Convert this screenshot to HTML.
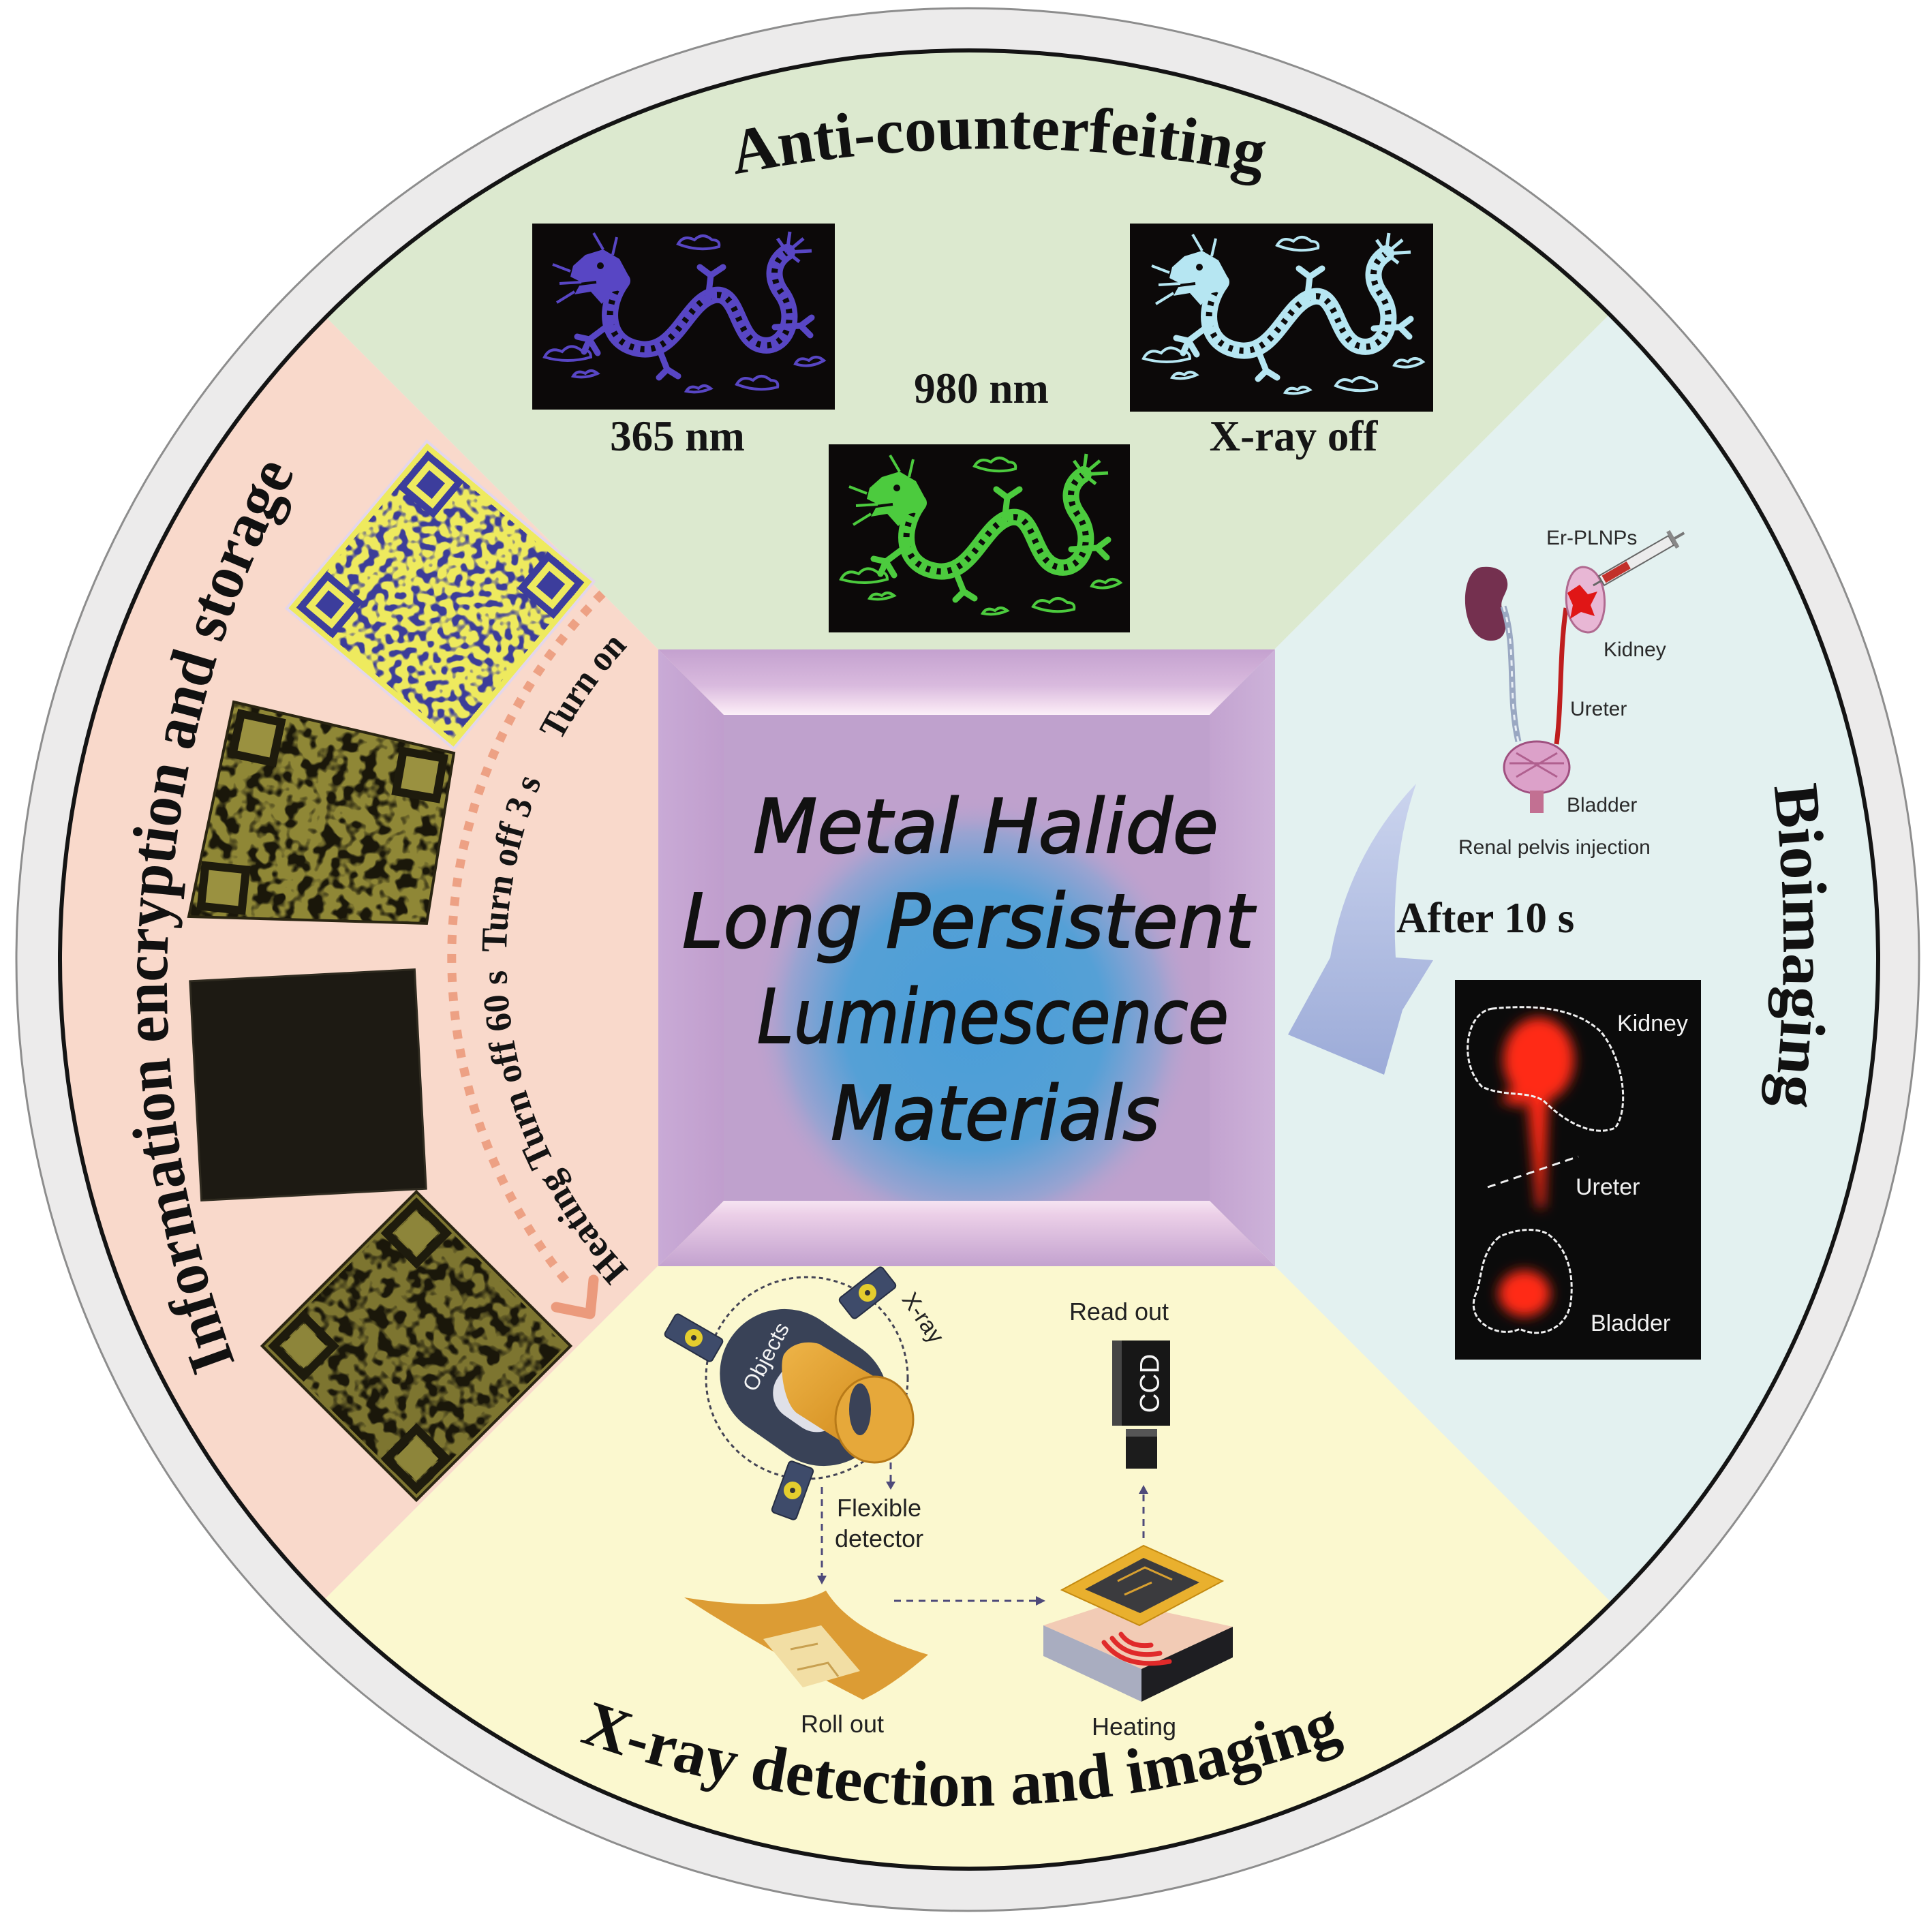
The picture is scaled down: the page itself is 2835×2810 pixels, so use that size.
<!DOCTYPE html>
<html><head><meta charset="utf-8"><style>html,body{margin:0;padding:0;background:#fff;width:2835px;height:2810px;overflow:hidden}#wrap{position:relative;width:2835px;height:2810px;overflow:hidden}svg{display:block;position:absolute;left:0;top:0;overflow:hidden}</style></head>
<body>
<div id="wrap">
<svg xmlns="http://www.w3.org/2000/svg" width="2835" height="2810" viewBox="0 0 2835 2810">
<defs>
<clipPath id="inner"><circle cx="1422" cy="1408" r="1332"/></clipPath>
<clipPath id="qr1clip"><polygon points="343,1030 666,1105 626,1355 277,1345"/></clipPath>
<linearGradient id="gTop" x1="0" y1="0" x2="0" y2="1"><stop offset="0" stop-color="#c4a1cf"/><stop offset="0.55" stop-color="#d9bade"/><stop offset="0.88" stop-color="#f4e0f0"/><stop offset="1" stop-color="#fbf0f8"/></linearGradient>
<linearGradient id="gBot" x1="0" y1="0" x2="0" y2="1"><stop offset="0" stop-color="#f6e4f2"/><stop offset="0.2" stop-color="#ecd0e8"/><stop offset="1" stop-color="#c3a2cf"/></linearGradient>
<linearGradient id="gLeft" x1="0" y1="0" x2="1" y2="0"><stop offset="0" stop-color="#c9aad6"/><stop offset="1" stop-color="#c09ecd"/></linearGradient>
<linearGradient id="gRight" x1="0" y1="0" x2="1" y2="0"><stop offset="0" stop-color="#c3a3d0"/><stop offset="1" stop-color="#cdb2d9"/></linearGradient>
<radialGradient id="gFace" cx="0.516" cy="0.628" r="0.46"><stop offset="0" stop-color="#4a9ed8"/><stop offset="0.58" stop-color="#55a0d6"/><stop offset="0.84" stop-color="#9aa3d1"/><stop offset="1" stop-color="#bfa1cd" stop-opacity="0"/></radialGradient>
<linearGradient id="gArrow" x1="0" y1="0" x2="0" y2="1"><stop offset="0" stop-color="#cbd4ee"/><stop offset="1" stop-color="#9cabd8"/></linearGradient>
<linearGradient id="gGold" x1="0" y1="0" x2="1" y2="1"><stop offset="0" stop-color="#eeb448"/><stop offset="0.5" stop-color="#dc9a2c"/><stop offset="1" stop-color="#c6801c"/></linearGradient>
<filter id="qrBlue" x="0" y="0" width="1" height="1" color-interpolation-filters="sRGB">
 <feTurbulence type="fractalNoise" baseFrequency="0.085" numOctaves="1" seed="11"/>
 <feColorMatrix type="matrix" values="0 0 0 0 0.235  0 0 0 0 0.24  0 0 0 0 0.6  9 0 0 0 -4.4"/>
</filter>
<filter id="qrOlive" x="0" y="0" width="1" height="1" color-interpolation-filters="sRGB">
 <feTurbulence type="fractalNoise" baseFrequency="0.05" numOctaves="2" seed="3"/>
 <feColorMatrix type="matrix" values="0 0 0 0 0.1  0 0 0 0 0.09  0 0 0 0 0.04  7 0 0 0 -3.3"/>
</filter>
<filter id="qrOlive2" x="0" y="0" width="1" height="1" color-interpolation-filters="sRGB">
 <feTurbulence type="fractalNoise" baseFrequency="0.05" numOctaves="2" seed="17"/>
 <feColorMatrix type="matrix" values="0 0 0 0 0.1  0 0 0 0 0.09  0 0 0 0 0.04  7 0 0 0 -3.2"/>
</filter>
<filter id="glow" x="-50%" y="-50%" width="200%" height="200%"><feGaussianBlur stdDeviation="9"/></filter>
<g id="dragon">
 <path d="M132 84 C104 122 106 176 158 184 C210 192 226 118 264 106 C304 94 298 170 336 178 C370 186 392 138 366 102 C350 80 352 56 374 42" fill="none" stroke="currentColor" stroke-width="24" stroke-linecap="round"/>
 <path d="M132 84 C104 122 106 176 158 184 C210 192 226 118 264 106 C304 94 298 170 336 178 C370 186 392 138 366 102 C350 80 352 56 374 42" fill="none" stroke="#0d0b0b" stroke-width="9" stroke-dasharray="6 10"/>
 <path d="M142 78 L128 52 L104 38 L78 46 L60 62 L56 78 L72 86 L62 104 L86 100 L102 118 L118 100 L138 96 Z" fill="currentColor"/>
 <circle cx="100" cy="62" r="5" fill="#0d0b0b"/>
 <path d="M62 90 L94 86" stroke="#0d0b0b" stroke-width="4"/>
 <path d="M104 38 L90 14 M118 46 L124 20 M56 70 L30 60 M62 100 L36 116 M72 86 L40 88" stroke="currentColor" stroke-width="4" fill="none"/>
 <path d="M116 146 L84 170 L66 166 M84 170 L76 188 M84 170 L96 190 M186 184 L198 214 L186 226 M198 214 L214 224 M258 110 L262 76 L280 64 M262 76 L246 64 M356 152 L394 150 L410 138 M394 150 L408 164" stroke="currentColor" stroke-width="9" fill="none" stroke-linecap="round"/>
 <path d="M374 42 L398 22 M374 42 L410 40 M374 42 L392 56 M374 42 L378 12 M374 42 L360 22" stroke="currentColor" stroke-width="5"/>
 <g fill="none" stroke="currentColor" stroke-width="4">
  <path d="M18 196 q8 -16 26 -8 q12 -14 28 -2 q14 -2 14 10 q-34 10 -68 0 z"/>
  <path d="M214 30 q8 -14 24 -6 q12 -12 26 0 q12 0 10 10 q-30 8 -60 -4 z"/>
  <path d="M300 236 q8 -14 24 -6 q12 -12 26 0 q12 0 10 10 q-30 8 -60 -4 z"/>
  <path d="M386 206 q6 -12 20 -5 q10 -10 22 0 q-20 12 -42 5 z"/>
  <path d="M226 246 q6 -10 18 -4 q8 -8 18 0 q-18 8 -36 4 z"/>
  <path d="M60 224 q6 -10 18 -4 q8 -8 18 0 q-18 8 -36 4 z"/>
 </g>
</g>
<path id="pTop" d="M 947.4 286.2 A 2000 2000 0 0 1 1982.6 286.2"/>
<path id="pLeft" d="M 406.4 2143.2 A 1595 1595 0 0 1 513.0 559.1"/>
<path id="pRight" d="M 2586.6 1040.7 A 2000 2000 0 0 1 2586.6 1735.3"/>
<path id="pBot" d="M 560 2422.2 A 1700 1700 0 0 0 2260 2422.2"/>
<path id="pLab" d="M 924.3 1865.3 A 675 675 0 0 1 924.3 944.7"/>
</defs>

<rect width="2835" height="2810" fill="#ffffff"/>
<circle cx="1420" cy="1408" r="1396" fill="#ecebeb" stroke="#8d8d8d" stroke-width="3"/>
<g clip-path="url(#inner)">
 <polygon points="1418,1405 13,0 2823,0" fill="#dce9cf"/>
 <polygon points="1418,1405 2823,0 2835,0 2835,2810 2823,2810" fill="#e3f1f0"/>
 <polygon points="1418,1405 2823,2810 13,2810" fill="#fbf8cf"/>
 <polygon points="1418,1405 13,2810 0,2810 0,0 13,0" fill="#f9d9cb"/>
</g>
<circle cx="1422" cy="1408" r="1334" fill="none" stroke="#141414" stroke-width="6"/>

<!-- Dragon images -->
<rect x="781" y="328" width="444" height="273" fill="#0c0909"/>
<use href="#dragon" x="781" y="328" style="color:#5846c4"/>
<rect x="1658" y="328" width="445" height="276" fill="#0c0909"/>
<use href="#dragon" x="1660" y="330" style="color:#b6e6f2"/>
<rect x="1216" y="652" width="442" height="276" fill="#0c0909"/>
<use href="#dragon" x="1216" y="654" style="color:#4ccb3e"/>

<g font-family="Liberation Serif, serif" font-weight="bold" font-size="63" fill="#151515" text-anchor="middle">
 <text x="994" y="661">365 nm</text>
 <text x="1440" y="591">980 nm</text>
 <text x="1898" y="661">X-ray off</text>
 <text x="2049" y="1368" text-anchor="start">After 10 s</text>
</g>

<!-- QR codes -->
<g transform="translate(646 873) rotate(40)">
 <rect x="-160" y="-160" width="320" height="320" fill="#eeea5e" stroke="#e3d6ec" stroke-width="4"/>
 <rect x="-150" y="-150" width="300" height="300" filter="url(#qrBlue)"/>
 <g fill="#3c3d9c"><rect x="-150" y="-150" width="70" height="70"/><rect x="80" y="-150" width="70" height="70"/><rect x="-150" y="80" width="70" height="70"/></g>
 <g fill="#eeea5e"><rect x="-140" y="-140" width="50" height="50"/><rect x="90" y="-140" width="50" height="50"/><rect x="-140" y="90" width="50" height="50"/></g>
 <g fill="#3c3d9c"><rect x="-130" y="-130" width="30" height="30"/><rect x="100" y="-130" width="30" height="30"/><rect x="-130" y="100" width="30" height="30"/></g>
</g>
<g clip-path="url(#qr1clip)">
 <g transform="translate(477 1200) rotate(10)">
  <rect x="-200" y="-200" width="400" height="400" fill="#8f8736"/>
  <rect x="-200" y="-200" width="400" height="400" filter="url(#qrOlive)"/>
 </g>
 <g fill="#9a9140" stroke="#1e1b0d" stroke-width="12">
  <rect x="-30" y="-30" width="60" height="60" transform="translate(377 1083) rotate(12)"/>
  <rect x="-30" y="-30" width="60" height="60" transform="translate(616 1137) rotate(10)"/>
  <rect x="-30" y="-30" width="60" height="60" transform="translate(328 1303) rotate(6)"/>
 </g>
</g>
<polygon points="343,1030 666,1105 626,1355 277,1345" fill="none" stroke="#2a2512" stroke-width="4"/>
<g transform="translate(452 1592) rotate(-3)">
 <rect x="-165" y="-161" width="330" height="322" fill="#1d1a13" stroke="#2f2b20" stroke-width="3"/>
</g>
<g transform="translate(611 1975) rotate(-45)">
 <rect x="-160" y="-160" width="320" height="320" fill="#7d7530" stroke="#2a2512" stroke-width="4"/>
 <rect x="-154" y="-154" width="308" height="308" filter="url(#qrOlive2)"/>
 <g fill="none" stroke="#1e1b0d" stroke-width="12"><rect x="-148" y="-148" width="62" height="62"/><rect x="86" y="-148" width="62" height="62"/><rect x="-148" y="86" width="62" height="62"/></g>
 <g fill="#8d853a"><rect x="-140" y="-140" width="46" height="46"/><rect x="94" y="-140" width="46" height="46"/><rect x="-140" y="94" width="46" height="46"/></g>
</g>

<!-- dotted arc + arrow -->
<path d="M 884 871 A 755 755 0 0 0 831 1880" fill="none" stroke="#eda184" stroke-width="13" stroke-dasharray="13 15"/>
<polyline points="871,1878 866,1928 816,1918" fill="none" stroke="#eb9a7c" stroke-width="15" stroke-linejoin="round" stroke-linecap="round"/>
<g font-family="Liberation Serif, serif" font-weight="bold" font-size="54" fill="#141414">
 <text><textPath href="#pLab" startOffset="2" textLength="486" lengthAdjust="spacingAndGlyphs">Heating Turn off 60 s</textPath></text>
 <text><textPath href="#pLab" startOffset="514" textLength="258" lengthAdjust="spacingAndGlyphs">Turn off 3 s</textPath></text>
 <text><textPath href="#pLab" startOffset="836" textLength="172" lengthAdjust="spacingAndGlyphs">Turn on</textPath></text>
</g>

<!-- Kidney diagram -->
<path d="M2175 832 C2140 835 2140 935 2185 940 C2215 942 2212 910 2205 895 C2198 880 2214 870 2212 855 C2210 838 2195 830 2175 832 Z" fill="#74304f"/>
<path d="M2206 890 C2226 950 2212 1020 2228 1088" fill="none" stroke="#9aa8c2" stroke-width="9"/>
<path d="M2206 890 C2226 950 2212 1020 2228 1088" fill="none" stroke="#e8eef5" stroke-width="3" stroke-dasharray="8 8"/>
<path d="M2298 892 C2288 960 2292 1030 2284 1092" fill="none" stroke="#bf1e1e" stroke-width="7"/>
<path d="M2322 832 C2290 835 2288 925 2330 928 C2364 928 2364 832 2322 832 Z" fill="#e8b7d5" stroke="#b06a90" stroke-width="3"/>
<path d="M2300 870 L2318 858 L2330 872 L2344 868 L2334 888 L2340 904 L2320 898 L2304 908 L2308 888 Z" fill="#e01616"/>
<g transform="translate(2350 852) rotate(-30)">
 <line x1="-14" y1="0" x2="0" y2="0" stroke="#666" stroke-width="3"/>
 <rect x="0" y="-8" width="118" height="16" fill="#ececec" stroke="#666" stroke-width="2"/>
 <rect x="4" y="-6" width="42" height="12" fill="#c2302a"/>
 <rect x="118" y="-14" width="6" height="28" fill="#888"/>
 <line x1="124" y1="0" x2="140" y2="0" stroke="#777" stroke-width="4"/>
</g>
<ellipse cx="2255" cy="1126" rx="48" ry="38" fill="#dca1c9" stroke="#a05080" stroke-width="3"/>
<path d="M2215 1120 L2295 1120 M2225 1105 L2285 1140 M2285 1105 L2225 1140" stroke="#b0608f" stroke-width="3"/>
<rect x="2245" y="1160" width="20" height="33" fill="#c27092"/>
<g font-family="Liberation Sans, Arial, sans-serif" font-size="30" fill="#2a2a2a">
 <text x="2269" y="799">Er-PLNPs</text>
 <text x="2353" y="963">Kidney</text>
 <text x="2304" y="1050">Ureter</text>
 <text x="2299" y="1191">Bladder</text>
 <text x="2140" y="1253">Renal pelvis injection</text>
</g>

<!-- Curved arrow -->
<path d="M2078 1150 Q1978 1255 1952 1405 L1890 1518 L2031 1577 L2058 1482 L2103 1409 L2048 1405 Q2040 1260 2078 1150 Z" fill="url(#gArrow)"/>

<!-- Kidney photo -->
<rect x="2135" y="1438" width="361" height="557" fill="#0b0b0b"/>
<g filter="url(#glow)" fill="#ff2a18">
 <ellipse cx="2258" cy="1555" rx="52" ry="62"/>
 <path d="M2240 1600 L2272 1600 L2266 1772 L2256 1772 Z"/>
 <path d="M2200 1615 L2240 1580 L2236 1625 Z"/>
 <ellipse cx="2237" cy="1898" rx="38" ry="34"/>
</g>
<g fill="none" stroke="#f0f0f0" stroke-width="3" stroke-dasharray="7 3">
 <path d="M2190 1480 C2150 1485 2140 1560 2175 1595 C2210 1610 2240 1600 2265 1615 C2300 1650 2340 1668 2370 1655 C2390 1630 2385 1560 2350 1515 C2310 1475 2240 1475 2190 1480 Z"/>
 <path d="M2200 1815 C2170 1840 2175 1880 2165 1900 C2150 1940 2200 1965 2230 1950 C2260 1965 2300 1950 2305 1910 C2310 1870 2300 1830 2270 1810 C2250 1800 2220 1805 2200 1815 Z"/>
 <path d="M2183 1742 L2316 1697" stroke-dasharray="12 8"/>
</g>
<g font-family="Liberation Sans, Arial, sans-serif" font-size="34" fill="#f2f2f2">
 <text x="2373" y="1513">Kidney</text>
 <text x="2312" y="1753">Ureter</text>
 <text x="2334" y="1953">Bladder</text>
</g>

<!-- X-ray illustration -->
<circle cx="1184" cy="2022" r="148" fill="none" stroke="#444455" stroke-width="3" stroke-dasharray="6 5"/>
<g transform="translate(1180 2036) rotate(35)">
 <rect x="-130" y="-95" width="260" height="190" rx="95" fill="#394257"/>
 <rect x="-40" y="-50" width="110" height="100" rx="40" fill="#dfe0e8"/>
</g>
<text transform="translate(1126 1992) rotate(-62)" font-family="Liberation Sans, Arial, sans-serif" font-size="32" fill="#f4f4f4" text-anchor="middle" dominant-baseline="middle">Objects</text>
<path d="M1150 1988 C1160 1972 1182 1966 1202 1972 L1283 2020 A57 63 0 0 1 1283 2146 L1170 2074 C1150 2060 1143 2005 1150 1988 Z" fill="url(#gGold)"/>
<ellipse cx="1283" cy="2083" rx="57" ry="63" fill="#e6a83a" stroke="#b87a18" stroke-width="3"/>
<ellipse cx="1262" cy="2068" rx="16" ry="38" fill="#3a4257"/>
<g>
 <g transform="translate(1018 1963) rotate(30)"><rect x="-40" y="-19" width="80" height="38" rx="5" fill="#3e4b6a" stroke="#262e44" stroke-width="2"/><circle r="13" fill="#e4cd2e"/><circle r="4" fill="#333"/></g>
 <g transform="translate(1273 1897) rotate(-38)"><rect x="-40" y="-19" width="80" height="38" rx="5" fill="#3e4b6a" stroke="#262e44" stroke-width="2"/><circle r="13" fill="#e4cd2e"/><circle r="4" fill="#333"/></g>
 <g transform="translate(1163 2187) rotate(-70)"><rect x="-40" y="-19" width="80" height="38" rx="5" fill="#3e4b6a" stroke="#262e44" stroke-width="2"/><circle r="13" fill="#e4cd2e"/><circle r="4" fill="#333"/></g>
</g>
<text transform="translate(1345 1940) rotate(56)" font-family="Liberation Sans, Arial, sans-serif" font-size="34" fill="#222" text-anchor="middle">X-ray</text>
<g fill="none" stroke="#4e4a7a" stroke-width="3" stroke-dasharray="10 8">
 <path d="M1307 2146 L1307 2176"/>
 <path d="M1206 2182 L1206 2314"/>
 <path d="M1312 2349 L1522 2349"/>
 <path d="M1678 2257 L1678 2190"/>
</g>
<g fill="#4e4a7a">
 <polygon points="1300,2174 1314,2174 1307,2186"/>
 <polygon points="1199,2312 1213,2312 1206,2325"/>
 <polygon points="1520,2342 1520,2356 1534,2349"/>
 <polygon points="1671,2192 1685,2192 1678,2179"/>
</g>
<g font-family="Liberation Sans, Arial, sans-serif" font-size="36" fill="#222">
 <text x="1228" y="2225">Flexible</text>
 <text x="1225" y="2270">detector</text>
 <text x="1236" y="2542" text-anchor="middle">Roll out</text>
 <text x="1664" y="2546" text-anchor="middle">Heating</text>
 <text x="1642" y="1937" text-anchor="middle">Read out</text>
</g>
<path d="M1004 2344 C1080 2356 1160 2362 1212 2334 C1240 2380 1300 2410 1362 2428 C1330 2455 1300 2478 1266 2494 C1180 2450 1090 2400 1004 2344 Z" fill="#dc9c34"/>
<polygon points="1120,2405 1205,2385 1262,2452 1178,2476" fill="#f2dea4"/>
<path d="M1160 2420 L1200 2412 M1170 2450 L1215 2440 L1230 2460" stroke="#c8a050" stroke-width="3" fill="none"/>
<!-- heating box -->
<polygon points="1531,2385 1638,2350 1809,2387 1675,2449" fill="#f2cbb5"/>
<polygon points="1531,2385 1675,2449 1675,2497 1531,2430" fill="#a9adc0"/>
<polygon points="1675,2449 1809,2387 1809,2432 1675,2497" fill="#1e1e22"/>
<g fill="none" stroke="#e02a2a" stroke-width="7" stroke-linecap="round">
 <path d="M1645 2398 q14 20 44 16"/>
 <path d="M1632 2404 q22 30 70 22"/>
 <path d="M1620 2410 q30 40 96 28"/>
</g>
<polygon points="1558,2333 1678,2268 1794,2320 1672,2385" fill="#e9b02e" stroke="#c48a10" stroke-width="2"/>
<polygon points="1592,2332 1678,2286 1760,2322 1673,2367" fill="#3b3b3e"/>
<path d="M1640 2320 L1680 2300 L1720 2318 M1650 2340 L1690 2322" stroke="#d8a030" stroke-width="3" fill="none"/>
<!-- CCD -->
<rect x="1632" y="1967" width="85" height="125" fill="#171717"/>
<rect x="1632" y="1967" width="14" height="125" fill="#454545"/>
<rect x="1652" y="2097" width="46" height="58" fill="#1c1c1c"/>
<rect x="1652" y="2097" width="46" height="11" fill="#555"/>
<text transform="translate(1690 2030) rotate(-90)" font-family="Liberation Sans, Arial, sans-serif" font-size="40" fill="#f4f4f4" text-anchor="middle" dominant-baseline="middle">CCD</text>

<!-- Center square -->
<polygon points="966,953 1871,953 1775,1049 1062,1049" fill="url(#gTop)"/>
<polygon points="1062,1762 1775,1762 1871,1858 966,1858" fill="url(#gBot)"/>
<polygon points="966,953 1062,1049 1062,1762 966,1858" fill="url(#gLeft)"/>
<polygon points="1871,953 1775,1049 1775,1762 1871,1858" fill="url(#gRight)"/>
<rect x="1062" y="1049" width="713" height="713" fill="#bfa1cd"/>
<rect x="1062" y="1049" width="713" height="713" fill="url(#gFace)"/>
<g font-family="DejaVu Sans, sans-serif" font-style="italic" font-size="110" fill="#111" stroke="#111" stroke-width="2">
 <text x="1105" y="1251" textLength="683" lengthAdjust="spacingAndGlyphs">Metal Halide</text>
 <text x="1001" y="1390" textLength="839" lengthAdjust="spacingAndGlyphs">Long Persistent</text>
 <text x="1111" y="1530" textLength="692" lengthAdjust="spacingAndGlyphs">Luminescence</text>
 <text x="1219" y="1672" textLength="483" lengthAdjust="spacingAndGlyphs">Materials</text>
</g>

<!-- Section titles -->
<g font-family="Liberation Serif, serif" font-weight="bold" fill="#111" text-anchor="middle">
 <text font-size="94"><textPath href="#pTop" startOffset="50%" textLength="778" lengthAdjust="spacingAndGlyphs">Anti-counterfeiting</textPath></text>
 <text font-size="94"><textPath href="#pLeft" startOffset="50%" textLength="1350" lengthAdjust="spacingAndGlyphs">Information encryption and storage</textPath></text>
 <text font-size="94"><textPath href="#pRight" startOffset="50%" textLength="470" lengthAdjust="spacingAndGlyphs">Bioimaging</textPath></text>
 <text font-size="94"><textPath href="#pBot" startOffset="50%" textLength="1142" lengthAdjust="spacingAndGlyphs">X-ray detection and imaging</textPath></text>
</g>
</svg>
</div>
</body></html>
